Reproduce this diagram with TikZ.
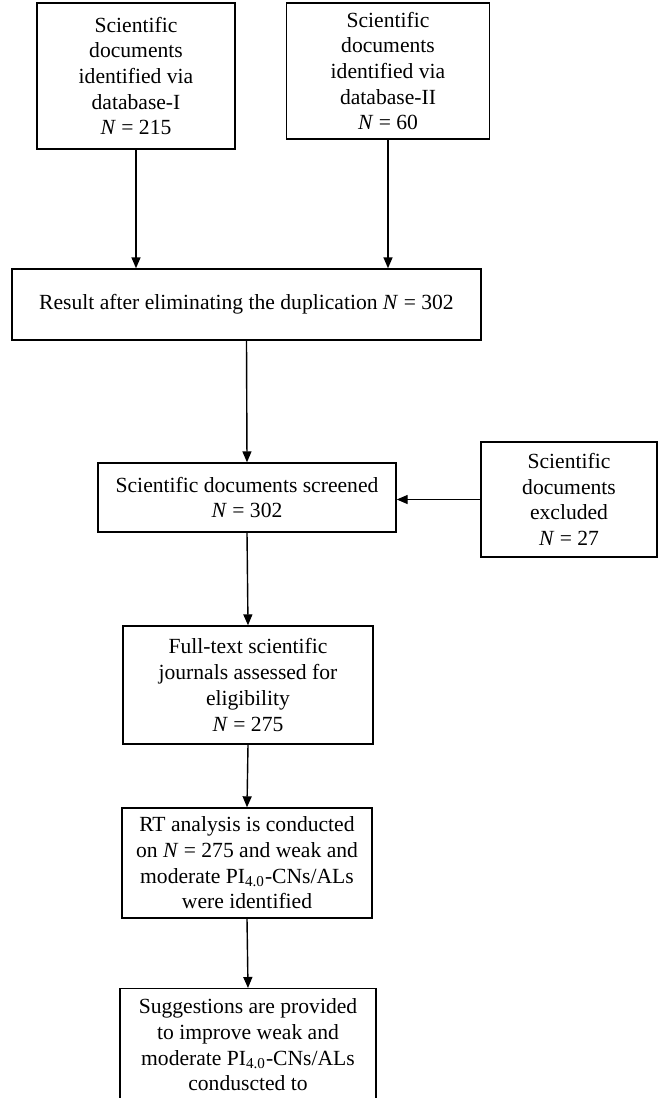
\documentclass[tikz,border=0pt]{standalone}
\usepackage{fontspec}
\setmainfont{Liberation Serif}
\usetikzlibrary{arrows.meta}

\begin{document}
\begin{tikzpicture}[x=0.5pt,y=-0.5pt,
  box/.style={draw, line width=0.7pt, align=center, inner sep=0pt,
    font=\fontsize{10.8}{12.85}\selectfont},
  flow/.style={-{Triangle[length=5.5pt,width=4.5pt]}, line width=0.7pt}]

  \clip (0,0) rectangle (658,1098);

  \node[box, minimum width=99pt, minimum height=73pt] (db1) at (136,76) {
    Scientific\\documents\\identified via\\database-I\\\textit{N} = 215};
  \node[box, minimum width=101.5pt, minimum height=68pt] (db2) at (388,71) {
    Scientific\\documents\\identified via\\database-II\\\textit{N} = 60};

  \node[box, minimum width=234.5pt, minimum height=35.5pt] (res) at (246.5,304.5) {
    Result after eliminating the duplication \textit{N} = 302};

  \node[box, minimum width=149pt, minimum height=34.5pt] (scr) at (247,497.5) {
    Scientific documents screened\\\textit{N} = 302};
  \node[box, minimum width=88pt, minimum height=57.5pt] (exc) at (569,499.5) {
    Scientific\\documents\\excluded\\\textit{N} = 27};

  \node[box, minimum width=125pt, minimum height=59pt] (full) at (248,685) {
    Full-text scientific\\journals assessed for\\eligibility\\\textit{N} = 275};
  \node[box, minimum width=125pt, minimum height=55pt] (rt) at (247,863) {
    RT analysis is conducted\\on \textit{N} = 275 and weak and\\
    moderate PI\textsubscript{4.0}-CNs/ALs\\were identified};
  \node[box, minimum width=128pt, anchor=north, inner ysep=5pt, text depth=40pt] (sug) at (248,988) {
    Suggestions are provided\\to improve weak and\\
    moderate PI\textsubscript{4.0}-CNs/ALs\\conduscted to};

  \draw[flow] (db1.south) -- (db1.south |- res.north);
  \draw[flow] (db2.south) -- (db2.south |- res.north);
  \draw[flow] (res.south) -- (scr.north);
  \draw[flow] (exc.west) -- (exc.west -| scr.east);
  \draw[flow] (scr.south) -- (full.north);
  \draw[flow] (full.south) -- (rt.north);
  \draw[flow] (rt.south) -- (sug.north);

\end{tikzpicture}
\end{document}
